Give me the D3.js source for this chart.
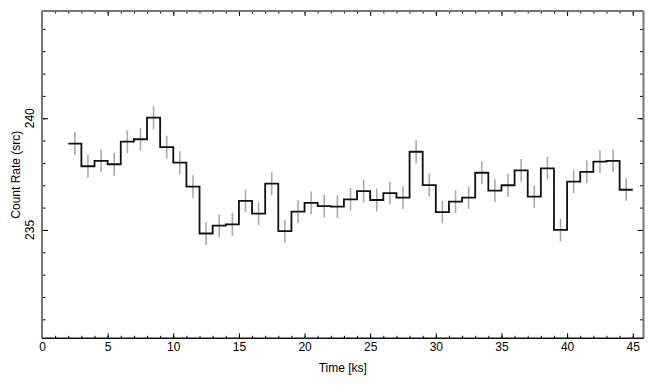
<!DOCTYPE html>
<html>
<head>
<meta charset="utf-8">
<script src="https://cdn.jsdelivr.net/npm/d3@7"></script>
<style>
body { margin: 0; background: #fff; }
text { font-family: "Liberation Sans", Arial, sans-serif; }
</style>
</head>
<body>
<script>
var width = 655;
var height = 385;

// bin centres [ks], bin width 1 ks
var time = [2.5, 3.5, 4.5, 5.5, 6.5, 7.5, 8.5, 9.5, 10.5, 11.5, 12.5, 13.5, 14.5,
    15.5, 16.5, 17.5, 18.5, 19.5, 20.5, 21.5, 22.5, 23.5, 24.5, 25.5, 26.5, 27.5,
    28.5, 29.5, 30.5, 31.5, 32.5, 33.5, 34.5, 35.5, 36.5, 37.5, 38.5, 39.5, 40.5,
    41.5, 42.5, 43.5, 44.5];
var rate = [238.86, 237.85, 238.09, 237.94, 238.95, 239.06, 240.03, 238.71, 238.01,
    236.94, 234.84, 235.19, 235.25, 236.30, 235.73, 237.07, 234.95, 235.82, 236.21,
    236.07, 236.04, 236.37, 236.74, 236.34, 236.65, 236.45, 238.50, 237.01, 235.80,
    236.27, 236.45, 237.56, 236.76, 237.00, 237.67, 236.49, 237.76, 235.00, 237.16,
    237.60, 238.06, 238.09, 236.80];
var rateErr = [0.51, 0.51, 0.51, 0.51, 0.51, 0.51, 0.51, 0.51, 0.51, 0.51, 0.51,
    0.51, 0.51, 0.51, 0.51, 0.51, 0.51, 0.51, 0.51, 0.51, 0.51, 0.51, 0.51, 0.51,
    0.51, 0.51, 0.51, 0.51, 0.51, 0.51, 0.51, 0.51, 0.51, 0.51, 0.51, 0.51, 0.51,
    0.51, 0.51, 0.51, 0.51, 0.51, 0.51];
var binWidth = 1;

var xMajor = [0, 5, 10, 15, 20, 25, 30, 35, 40, 45];
var yMajor = [235, 240];

var pLeft = 42, pRight = 643.5, pTop = 11, pBottom = 338.3;

var x = d3.scaleLinear().domain([0, 45.82]).range([pLeft, pRight]);
var y = d3.scaleLinear().domain([230.15, 244.8]).range([pBottom, pTop]);

var svg = d3.select("body").append("svg")
    .attr("width", width)
    .attr("height", height);

var xMinor = d3.range(0, 46, 1);
var yMinor = d3.range(231, 245, 1);

// minor ticks
svg.append("g").attr("transform", "translate(0," + pBottom + ")")
    .call(d3.axisBottom(x).tickValues(xMinor).tickSize(-2.5).tickFormat(""));
svg.append("g").attr("transform", "translate(0," + pTop + ")")
    .call(d3.axisTop(x).tickValues(xMinor).tickSize(-2.5).tickFormat(""));
svg.append("g").attr("transform", "translate(" + pLeft + ",0)")
    .call(d3.axisLeft(y).tickValues(yMinor).tickSize(-3.5).tickFormat(""));
svg.append("g").attr("transform", "translate(" + pRight + ",0)")
    .call(d3.axisRight(y).tickValues(yMinor).tickSize(-3.5).tickFormat(""));

// major ticks
svg.append("g").attr("class", "xaxis").attr("transform", "translate(0," + pBottom + ")")
    .call(d3.axisBottom(x).tickValues(xMajor).tickSize(-5).tickPadding(4));
svg.append("g").attr("transform", "translate(0," + pTop + ")")
    .call(d3.axisTop(x).tickValues(xMajor).tickSize(-5).tickFormat(""));
svg.append("g").attr("transform", "translate(" + pLeft + ",0)")
    .call(d3.axisLeft(y).tickValues(yMajor).tickSize(-6).tickFormat(""));
svg.append("g").attr("transform", "translate(" + pRight + ",0)")
    .call(d3.axisRight(y).tickValues(yMajor).tickSize(-6).tickFormat(""));

svg.selectAll(".domain").remove();
svg.selectAll(".tick line").attr("stroke", "#000").attr("stroke-width", 1);

svg.select(".xaxis").selectAll("text")
    .attr("font-size", 12).attr("fill", "#000")
    .attr("font-family", "Liberation Sans, Arial, sans-serif");

svg.selectAll(".ylab")
    .data(yMajor)
    .enter().append("text")
        .attr("transform", function(d) { return "translate(34," + y(d) + ") rotate(-90)"; })
        .attr("text-anchor", "middle")
        .attr("font-size", 12)
        .text(function(d) { return d; });

// frame
svg.append("line").attr("x1", pLeft).attr("x2", pLeft).attr("y1", pTop).attr("y2", pBottom)
    .attr("stroke", "#777").attr("stroke-width", 2);
svg.append("line").attr("x1", pRight).attr("x2", pRight).attr("y1", pTop).attr("y2", pBottom)
    .attr("stroke", "#777").attr("stroke-width", 2);
svg.append("line").attr("x1", pLeft).attr("x2", pRight).attr("y1", pTop).attr("y2", pTop)
    .attr("stroke", "#777").attr("stroke-width", 2);
svg.append("line").attr("x1", pLeft).attr("x2", pRight).attr("y1", pBottom).attr("y2", pBottom)
    .attr("stroke", "#111").attr("stroke-width", 1.5);

// error bars
svg.selectAll(".err")
    .data(time)
    .enter().append("line")
        .attr("x1", function(d) { return x(d); })
        .attr("x2", function(d) { return x(d); })
        .attr("y1", function(d, i) { return y(rate[i] - rateErr[i]); })
        .attr("y2", function(d, i) { return y(rate[i] + rateErr[i]); })
        .attr("stroke", "#aaa")
        .attr("stroke-width", 1.6);

// step curve
var steps = time.map(function(t, i) { return [t - binWidth / 2, rate[i]]; });
steps.push([time[time.length - 1] + binWidth / 2, rate[rate.length - 1]]);

svg.append("path")
    .datum(steps)
    .attr("fill", "none")
    .attr("stroke", "#111")
    .attr("stroke-width", 1.8)
    .attr("d", d3.line()
        .x(function(d) { return x(d[0]); })
        .y(function(d) { return y(d[1]); })
        .curve(d3.curveStepAfter));

// axis titles
svg.append("text")
    .attr("x", (pLeft + pRight) / 2)
    .attr("y", 372)
    .attr("text-anchor", "middle")
    .attr("font-size", 12)
    .text("Time [ks]");

svg.append("text")
    .attr("transform", "translate(20," + ((pTop + pBottom) / 2) + ") rotate(-90)")
    .attr("text-anchor", "middle")
    .attr("font-size", 12)
    .text("Count Rate (src)");
</script>
</body>
</html>
